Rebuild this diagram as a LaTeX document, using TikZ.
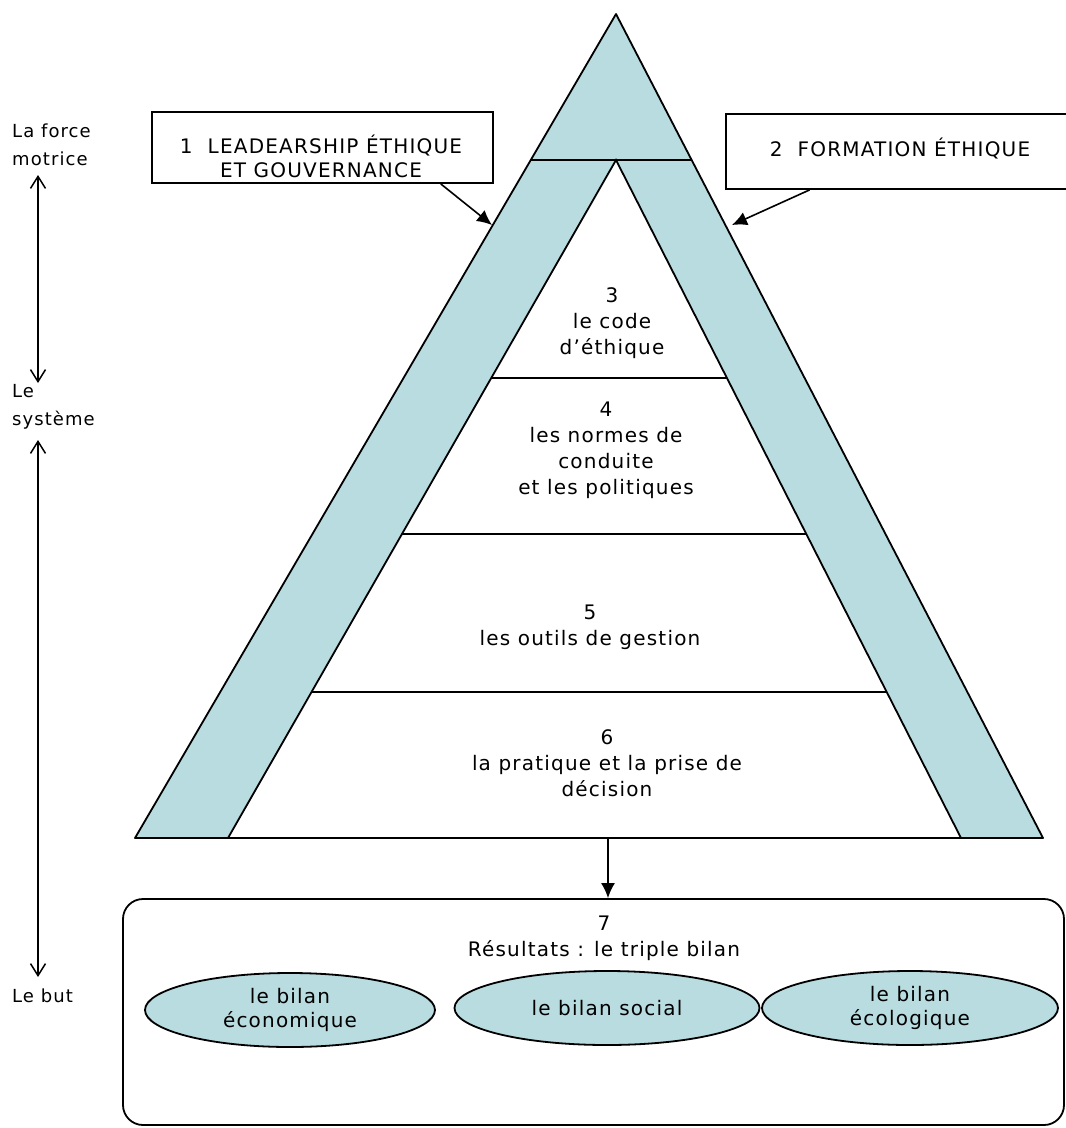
\documentclass[tikz,border=0pt]{standalone}
\usepackage{fontspec}
\setmainfont{DejaVu Sans}[LetterSpace=6]
\usetikzlibrary{arrows.meta,calc,shapes.geometric}
\definecolor{pyr}{RGB}{184,220,224}
\begin{document}
\begin{tikzpicture}[x=1pt,y=-1pt,
  txt/.style={font=\fontsize{20}{26}\selectfont, align=center, inner sep=0pt},
  side/.style={font=\fontsize{18}{28}\selectfont, anchor=base west, inner sep=0pt},
  edge/.style={line width=1.8pt},
  boxst/.style={draw, line width=1.8pt, inner sep=0pt},
  farr/.style={line width=1.6pt, -{Latex[length=15pt,width=14pt]}},
  dblarr/.style={line width=1.5pt, {Straight Barb[length=12pt,width=15pt]}-{Straight Barb[length=12pt,width=15pt]}},
  ell/.style={ellipse, draw, fill=pyr, line width=1.8pt, inner sep=0pt, font=\fontsize{20}{24}\selectfont, align=center}
]
\useasboundingbox (0,0) rectangle (1066,1128);
\clip (0,0) rectangle (1066,1128);
% pyramid
\fill[pyr] (616,14) -- (135,838) -- (1043,838) -- cycle;
\fill[white] (616,160) -- (228,838) -- (961,838) -- cycle;
\draw[edge, line join=round] (616,14) -- (135,838) -- (1043,838) -- cycle;
\draw[edge] (228,838) -- (616,160) -- (961,838);
\draw[edge] (530.8,160) -- (691.7,160);
\draw[edge] (491.2,378) -- (726.9,378);
\draw[edge] (402,534) -- (806.3,534);
\draw[edge] (311.5,692) -- (886.7,692);
% level texts
\node[txt] (t3) at (612,323) {3\\le code\\d\char"27 éthique};
\node[txt] (t4) at (606,450) {4\\les normes de\\conduite\\et les politiques};
\node[txt] (t5) at (590,627) {5\\les outils de gestion};
\node[txt] (t6) at (607,763) {6\\la pratique et la prise de\\décision};
% result box
\node[boxst, rounded corners=20pt, minimum width=941pt, minimum height=226pt] (res) at (593.5,1012) {};
\node[txt] (t7) at (604,938) {7\\Résultats : le triple bilan};
\node[ell, minimum width=290pt, minimum height=74pt] (e1) at (290,1010) {le bilan\\économique};
\node[ell, minimum width=305pt, minimum height=74pt] (e2) at (607,1008) {le bilan social};
\node[ell, minimum width=296pt, minimum height=74pt] (e3) at (910,1008) {le bilan\\écologique};
% top boxes
\node[boxst, minimum width=341pt, minimum height=71pt] (b1) at (322.5,147.5) {};
\node[txt, font=\fontsize{20}{24}\selectfont] (b1t) at (321,156) {1\ \ LEADEARSHIP ÉTHIQUE\\ET GOUVERNANCE};
\node[boxst, minimum width=364pt, minimum height=75pt] (b2) at (908,151.5) {};
\node[txt] (b2t) at (900,149) {2\ \ FORMATION ÉTHIQUE};
% arrows
\coordinate (p1) at (492,225);
\coordinate (p2) at (732,225);
\draw[farr] ($(b1.south west)!0.845!(b1.south east)$) -- (p1);
\draw[farr] ($(b2.south west)!0.231!(b2.south east)$) -- (p2);
\coordinate (bp) at (608,838);
\draw[farr] (bp) -- (bp |- res.north);
% left labels
\node[side] (lf1) at (12,137) {La force};
\node[side] (lf2) at (12,165) {motrice};
\node[side] (ls1) at (12,397) {Le};
\node[side] (ls2) at (12,425) {système};
\node[side] (lb) at (12,1002) {Le but};
\coordinate (v1) at (38,175);
\coordinate (v2) at (38,383);
\coordinate (v3) at (38,440);
\coordinate (v4) at (38,977);
\draw[dblarr] (v1) -- (v2);
\draw[dblarr] (v3) -- (v4);
\end{tikzpicture}
\end{document}
